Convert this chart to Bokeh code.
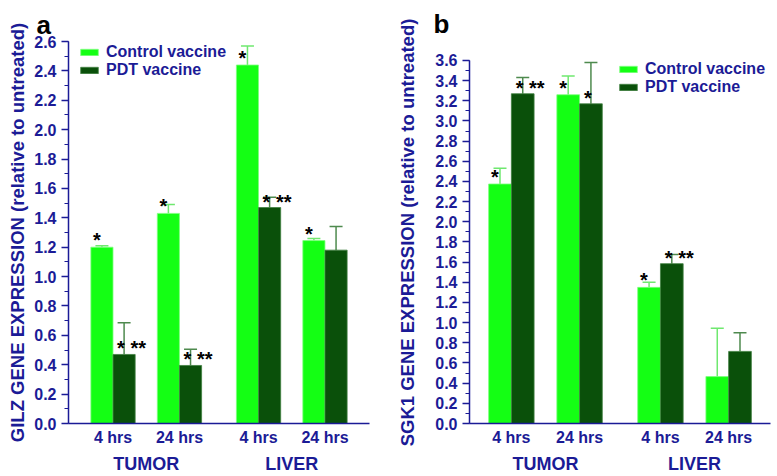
from bokeh.plotting import figure
from bokeh.models import (FactorRange, Whisker, TeeHead, ColumnDataSource,
                          SingleIntervalTicker, NumeralTickFormatter, Legend,
                          LegendItem, Title)
from bokeh.transform import dodge
from bokeh.layouts import row
from bokeh.embed import file_html
from bokeh.resources import INLINE
from bokeh.core.properties import value

# ---------------- data ----------------
tissues = ["TUMOR", "TUMOR", "LIVER", "LIVER"]
times = ["4 hrs", "24 hrs", "4 hrs", "24 hrs"]
series_names = ["Control vaccine", "PDT vaccine"]

gilz_control = [1.20, 1.43, 2.44, 1.245]
gilz_control_err = [0.01, 0.06, 0.13, 0.015]
gilz_pdt = [0.47, 0.395, 1.47, 1.18]
gilz_pdt_err = [0.215, 0.11, 0.07, 0.16]
gilz_control_marks = ["*", "*", "*", "*"]
gilz_pdt_marks = ["* **", "* **", "* **", ""]

sgk1_control = [2.375, 3.26, 1.35, 0.465]
sgk1_control_err = [0.155, 0.185, 0.05, 0.48]
sgk1_pdt = [3.27, 3.17, 1.585, 0.715]
sgk1_pdt_err = [0.16, 0.41, 0.09, 0.185]
sgk1_control_marks = ["*", "*", "*", ""]
sgk1_pdt_marks = ["* **", "*", "* **", ""]

# ---------------- style ----------------
NAVY = "#1b1b96"
LIGHT = "#14ff14"
DARK = "#0a500a"
LIGHT_ERR = "#6fe86f"
DARK_ERR = "#4e8a4e"
FONT = "Liberation Sans"
H = 476
TOP = 41
BOTTOM = 53
FRAME_H = H - TOP - BOTTOM


def make_panel(letter, letter_offset, letter_valign, letter_standoff, ylabel,
               ctrl, ctrl_err, pdt, pdt_err, ctrl_marks, pdt_marks, ymax,
               yend, width, b_left, b_right, group_padding, range_padding,
               label_standoff, legend_loc):
    cats = list(zip(tissues, times))
    xr = FactorRange(factors=cats, group_padding=group_padding,
                     factor_padding=0, range_padding=range_padding,
                     range_padding_units="absolute")
    p = figure(x_range=xr, y_range=(0, yend), width=width, height=H,
               output_backend="svg", toolbar_location=None,
               min_border_left=b_left, min_border_right=b_right,
               min_border_top=TOP, min_border_bottom=BOTTOM)
    p.title.visible = False
    p.add_layout(Title(text=letter, align="left", offset=letter_offset,
                       vertical_align=letter_valign,
                       standoff=letter_standoff, text_font=FONT,
                       text_font_size="26px", text_font_style="bold",
                       text_color="black"), "above")

    src = ColumnDataSource(dict(
        cat=cats, ctrl=ctrl, pdt=pdt,
        ctrl_top=[v + e for v, e in zip(ctrl, ctrl_err)],
        pdt_top=[v + e for v, e in zip(pdt, pdt_err)],
        ctrl_mark=ctrl_marks, pdt_mark=pdt_marks))

    xc = dodge("cat", -0.1667, range=xr)
    xp = dodge("cat", 0.1667, range=xr)
    r1 = p.vbar(x=xc, top="ctrl", width=0.333, source=src,
                fill_color=LIGHT, line_color="#7dff7d", line_width=0.8)
    r2 = p.vbar(x=xp, top="pdt", width=0.333, source=src,
                fill_color=DARK, line_color="#3f7f3f", line_width=0.8)

    p.add_layout(Whisker(base=xc, lower="ctrl", upper="ctrl_top", source=src,
                         line_color=LIGHT_ERR, line_width=1.5, lower_head=None,
                         upper_head=TeeHead(size=13, line_color=LIGHT_ERR,
                                            line_width=1.5)))
    p.add_layout(Whisker(base=xp, lower="pdt", upper="pdt_top", source=src,
                         line_color=DARK_ERR, line_width=1.5, lower_head=None,
                         upper_head=TeeHead(size=13, line_color=DARK_ERR,
                                            line_width=1.5)))

    p.text(x=xc, y="ctrl", text="ctrl_mark", source=src,
           text_font=value(FONT), text_font_size="20px",
           text_font_style="bold", text_color="black", text_align="left",
           text_baseline="alphabetic", x_offset=-9, y_offset=-7)
    p.text(x=xp, y="pdt", text="pdt_mark", source=src,
           text_font=value(FONT), text_font_size="20px",
           text_font_style="bold", text_color="black", text_align="left",
           text_baseline="alphabetic", x_offset=-7, y_offset=-6)

    legend = Legend(items=[LegendItem(label=series_names[0], renderers=[r1]),
                           LegendItem(label=series_names[1], renderers=[r2])],
                    location=legend_loc, margin=0, padding=0, spacing=0,
                    glyph_width=22, glyph_height=8, label_height=17,
                    label_standoff=6, background_fill_alpha=0,
                    border_line_color=None,
                    label_text_font=FONT, label_text_font_size="16px",
                    label_text_font_style="bold", label_text_color=NAVY)
    p.add_layout(legend)

    p.xgrid.grid_line_color = None
    p.ygrid.grid_line_color = None
    p.outline_line_color = None

    ya = p.yaxis[0]
    ya.bounds = (0, ymax)
    ya.ticker = SingleIntervalTicker(interval=0.2, num_minor_ticks=2)
    ya.formatter = NumeralTickFormatter(format="0.0")
    ya.axis_line_color = NAVY
    ya.axis_line_width = 1.5
    ya.major_tick_line_color = NAVY
    ya.major_tick_line_width = 1.5
    ya.minor_tick_line_color = NAVY
    ya.minor_tick_line_width = 1.2
    ya.major_tick_out = 7
    ya.major_tick_in = 0
    ya.minor_tick_out = 4
    ya.minor_tick_in = 0
    ya.major_label_standoff = 5
    ya.major_label_text_font = FONT
    ya.major_label_text_font_size = "16px"
    ya.major_label_text_font_style = "bold"
    ya.major_label_text_color = NAVY
    ya.axis_label = ylabel
    ya.axis_label_standoff = label_standoff
    ya.axis_label_text_font = FONT
    ya.axis_label_text_font_size = "18.5px"
    ya.axis_label_text_font_style = "bold"
    ya.axis_label_text_color = NAVY

    xa = p.xaxis[0]
    xa.axis_line_color = NAVY
    xa.axis_line_width = 1.5
    xa.major_tick_line_color = None
    xa.major_tick_out = 0
    xa.major_tick_in = 0
    xa.minor_tick_line_color = None
    xa.separator_line_color = None
    xa.axis_label_standoff = 0
    xa.major_label_standoff = 5
    xa.major_label_text_font = FONT
    xa.major_label_text_font_size = "16px"
    xa.major_label_text_font_style = "bold"
    xa.major_label_text_color = NAVY
    xa.group_text_font = FONT
    xa.group_text_font_size = "18px"
    xa.group_text_font_style = "bold"
    xa.group_text_color = NAVY
    return p


LEG_H = 36
pa = make_panel("a", -32, "top", 0,
                "GILZ GENE EXPRESSION (relative to untreated)",
                gilz_control, gilz_control_err, gilz_pdt, gilz_pdt_err,
                gilz_control_marks, gilz_pdt_marks, 2.6, 2.6,
                388, 68, 19, 0.19, 0.17, 3, (10, FRAME_H - LEG_H - 2))
pb = make_panel("b", -36, "bottom", 4.5,
                "SGK1 GENE EXPRESSION (relative to untreated)",
                sgk1_control, sgk1_control_err, sgk1_pdt, sgk1_pdt_err,
                sgk1_control_marks, sgk1_pdt_marks, 3.6, 3.788,
                389, 81, 7, 0.186, 0.114, 14, (148, FRAME_H - LEG_H - 19))

layout = row(pa, pb)
open("out.html", "w").write(file_html(layout, INLINE))
